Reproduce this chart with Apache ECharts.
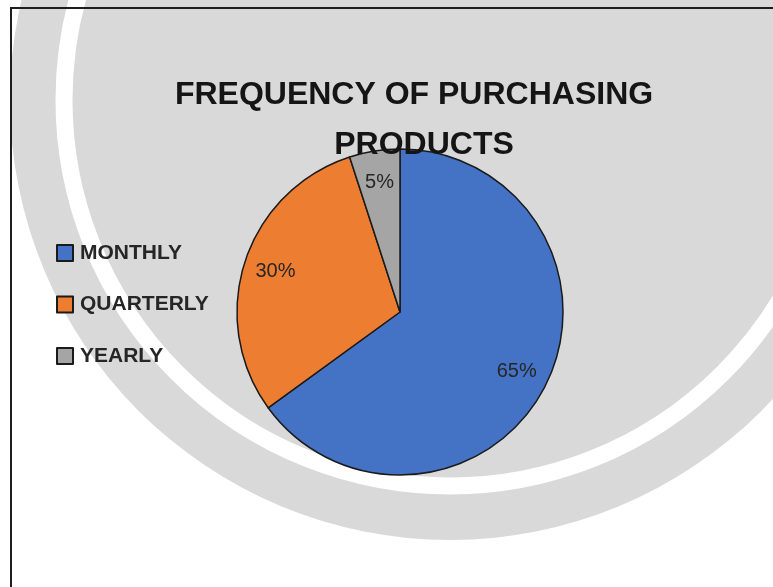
<!DOCTYPE html>
<html>
<head>
<meta charset="utf-8">
<title>Frequency of purchasing products</title>
<script src="https://cdn.jsdelivr.net/npm/echarts@6/dist/echarts.min.js"></script>
<style>
  html, body { margin: 0; padding: 0; background: #ffffff; }
  #chart { width: 773px; height: 587px; }
</style>
</head>
<body>
<div id="chart"></div>
<script>
// Purchase frequency categories and their share of respondents (%)
const categories = ['MONTHLY', 'QUARTERLY', 'YEARLY'];
const shares = [65, 30, 5];
const titleLines = ['FREQUENCY OF PURCHASING', 'PRODUCTS'];

const sliceColors = ['#4472C4', '#ED7D31', '#A5A5A5'];
const FONT = "'Liberation Sans', Arial, sans-serif";

const pieData = categories.map((name, i) => ({
  name,
  value: shares[i],
  itemStyle: { color: sliceColors[i] }
}));

const chart = echarts.init(document.getElementById('chart'), null, { renderer: 'canvas' });

chart.setOption({
  backgroundColor: '#ffffff',
  animation: false,
  graphic: [
    // soft grey backdrop behind the plot
    { type: 'circle', z: 0, silent: true,
      shape: { cx: 450, cy: 100, r: 440 },
      style: { fill: '#d9d9d9' } },
    { type: 'circle', z: 0, silent: true,
      shape: { cx: 450, cy: 100, r: 386 },
      style: { fill: 'none', stroke: '#ffffff', lineWidth: 17 } },
    // chart area frame
    { type: 'polyline', z: 1, silent: true,
      shape: { points: [[11, 600], [11, 8], [800, 8]] },
      style: { fill: 'none', stroke: '#1e1e1e', lineWidth: 2 } }
  ],
  title: [
    { text: titleLines[0], left: 414, top: 79, padding: 0, textAlign: 'center',
      textStyle: { fontFamily: FONT, fontWeight: 'bold', fontSize: 32, lineHeight: 32, color: '#151515' } },
    { text: titleLines[1], left: 424, top: 129, padding: 0, textAlign: 'center',
      textStyle: { fontFamily: FONT, fontWeight: 'bold', fontSize: 32, lineHeight: 32, color: '#151515' } }
  ],
  legend: {
    orient: 'vertical',
    left: 56,
    top: 242,
    padding: 0,
    data: categories,
    selectedMode: false,
    icon: 'rect',
    itemWidth: 16,
    itemHeight: 16,
    itemGap: 29.5,
    textStyle: {
      fontFamily: FONT, fontWeight: 'bold', fontSize: 21, lineHeight: 22,
      color: '#262626', padding: [0, 0, 0, 2]
    }
  },
  series: [
    {
      type: 'pie',
      name: 'Frequency',
      center: [400, 312],
      radius: 163,
      startAngle: 90,
      clockwise: true,
      silent: true,
      label: { show: false },
      labelLine: { show: false },
      itemStyle: { borderColor: '#1a1a1a', borderWidth: 1.5 },
      data: pieData
    },
    {
      // transparent ring used to place the percentage labels near the rim
      type: 'pie',
      name: 'Labels',
      center: [400, 312],
      radius: [93, 163],
      startAngle: 90,
      clockwise: true,
      silent: true,
      z: 3,
      itemStyle: { color: 'rgba(0,0,0,0)', borderWidth: 0 },
      label: {
        show: true,
        position: 'inside',
        formatter: '{d}%',
        fontFamily: FONT,
        fontSize: 20,
        color: '#262626'
      },
      labelLine: { show: false },
      data: categories.map((name, i) => ({ name, value: shares[i] }))
    }
  ]
});
</script>
</body>
</html>
